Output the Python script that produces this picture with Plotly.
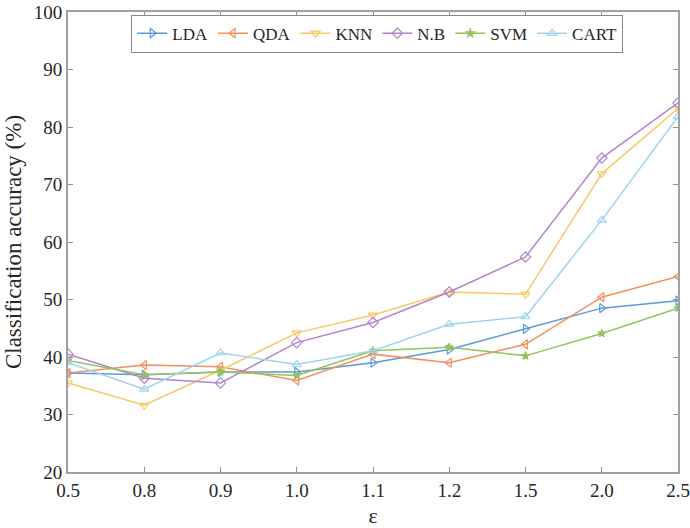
import plotly.graph_objects as go

eps_labels = ["0.5", "0.8", "0.9", "1.0", "1.1", "1.2", "1.5", "2.0", "2.5"]
lda = [37.2, 36.9, 37.4, 37.4, 39.0, 41.3, 44.9, 48.5, 49.8]
qda = [37.2, 38.6, 38.3, 35.9, 40.5, 39.0, 42.2, 50.4, 54.0]
knn = [35.5, 31.6, 37.7, 44.2, 47.3, 51.3, 50.9, 71.9, 83.2]
nb = [40.5, 36.3, 35.5, 42.5, 46.0, 51.3, 57.4, 74.6, 84.2]
svm = [39.4, 36.9, 37.4, 36.8, 41.1, 41.7, 40.2, 44.1, 48.5]
cart = [39.0, 34.4, 40.7, 38.7, 41.1, 45.7, 47.0, 63.8, 81.8]

series = [
    ("LDA", lda, "#5b9bd8", "triangle-right-open"),
    ("QDA", qda, "#f0905c", "triangle-left-open"),
    ("KNN", knn, "#f7c965", "triangle-down-open"),
    ("N.B", nb, "#b385cb", "diamond-open"),
    ("SVM", svm, "#94c35f", "star"),
    ("CART", cart, "#9fd3ee", "triangle-up-open"),
]

xs = list(range(len(eps_labels)))
fig = go.Figure()
for name, vals, color, sym in series:
    fig.add_trace(go.Scatter(
        x=xs, y=vals, name=name, mode="lines+markers",
        line=dict(color=color, width=1.5),
        marker=dict(symbol=sym, size=8 if sym != "star" else 6,
                    color=color, line=dict(color=color, width=1.2)),
    ))

font = "Liberation Serif"
fig.update_layout(
    width=690, height=528,
    margin=dict(l=68, r=12, t=12, b=56),
    paper_bgcolor="white", plot_bgcolor="white",
    font=dict(family=font, size=19, color="#262626"),
    showlegend=True,
    legend=dict(orientation="h", x=0.507, xanchor="center", y=0.953, yanchor="middle",
                bgcolor="white", bordercolor="#888888", borderwidth=1,
                font=dict(family=font, size=17, color="#262626"),
                itemwidth=30, tracegroupgap=0),
)
fig.update_xaxes(
    range=[0, 8], tickmode="array", tickvals=xs, ticktext=eps_labels,
    ticks="inside", ticklen=5, tickcolor="#909090",
    showline=True, linecolor="#a0a0a0", linewidth=1.8, mirror="ticks",
    showgrid=False, zeroline=False, automargin=False,
    tickfont=dict(size=19),
    title=dict(text="ε", font=dict(family=font, size=22), standoff=9),
)
fig.update_yaxes(
    range=[20, 100], tickmode="array", tickvals=list(range(20, 101, 10)),
    ticks="inside", ticklen=5, tickcolor="#909090",
    showline=True, linecolor="#a0a0a0", linewidth=1.8, mirror="ticks",
    showgrid=False, zeroline=False, automargin=False,
    tickfont=dict(size=19),
    title=dict(text="Classification accuracy (%)", font=dict(family=font, size=23), standoff=6),
)
fig.write_html("out.html")
